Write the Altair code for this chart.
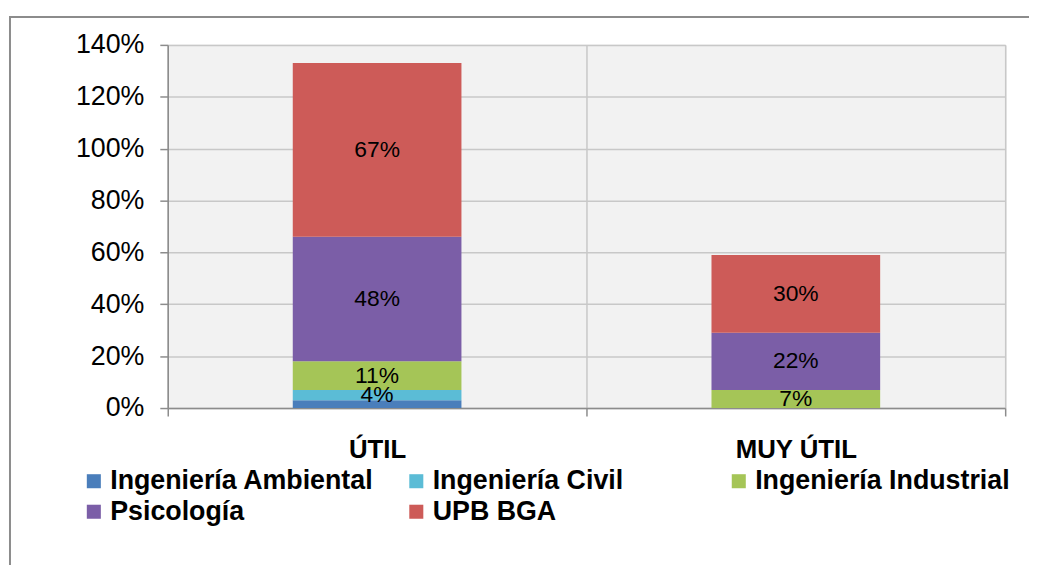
import altair as alt
import pandas as pd

FONT = "Liberation Sans"

categories = ["ÚTIL", "MUY ÚTIL"]
series = ["Ingeniería Ambiental", "Ingeniería Civil", "Ingeniería Industrial", "Psicología", "UPB BGA"]
util_values = [0.03, 0.04, 0.11, 0.48, 0.67]
muy_util_values = [0.0, 0.0, 0.07, 0.22, 0.30]
labeled_series = ["Ingeniería Civil", "Ingeniería Industrial", "Psicología", "UPB BGA"]
colors = ["#4a7ebb", "#5bbcd6", "#a5c557", "#7b5ea7", "#cd5b58"]
y_ticks = [0, 0.2, 0.4, 0.6, 0.8, 1.0, 1.2, 1.4]

rows = []
for ci, cat in enumerate(categories):
    vals = util_values if ci == 0 else muy_util_values
    for si, s in enumerate(series):
        rows.append({"cat": cat, "serie": s, "order": si, "value": vals[si],
                     "label": s in labeled_series})
df = pd.DataFrame(rows)

GRID = "#c8c8c8"
AXIS = "#8c8c8c"

x_enc = alt.X(
    "cat:N", sort=categories,
    scale=alt.Scale(paddingInner=0, paddingOuter=0),
    axis=alt.Axis(title=None, labelAngle=0, labelFont=FONT, labelFontSize=26,
                  labelFontWeight="bold", labelColor="black", tickBand="extent",
                  grid=True, gridColor=GRID, gridWidth=1.5, tickSize=8, tickColor=AXIS,
                  domainColor=AXIS, domainWidth=1.5, tickWidth=1.5, labelPadding=21),
)
y_enc = alt.Y(
    "value:Q", stack="zero",
    scale=alt.Scale(domain=[0, 1.4], nice=False),
    axis=alt.Axis(title=None, format=".0%", values=y_ticks, labelFont=FONT,
                  labelFontSize=27, labelColor="black", tickSize=8, tickColor=AXIS,
                  tickWidth=1.5, domainColor=AXIS, domainWidth=1.5, gridColor=GRID,
                  gridWidth=1.5, labelPadding=16),
)

frame = alt.Chart(pd.DataFrame({"a": [0]})).mark_rect(
    fill="transparent", stroke="#8c8c8c", strokeWidth=2
).encode(x=alt.value(-159), x2=alt.value(1200), y=alt.value(-28), y2=alt.value(700))

bars = alt.Chart(df).mark_bar(size=170).encode(
    x=x_enc,
    y=y_enc,
    color=alt.Color(
        "serie:N", sort=series,
        scale=alt.Scale(domain=series, range=colors),
        legend=alt.Legend(title=None, orient="none", legendX=-88, legendY=426,
                          direction="horizontal", columns=3, gridAlign="all",
                          columnPadding=29, rowPadding=3,
                          symbolType="square", symbolSize=200, symbolStrokeWidth=0,
                          labelFont=FONT, labelFontSize=27, labelFontWeight="bold",
                          labelColor="black", labelOffset=3, labelLimit=400, padding=0),
    ),
    order=alt.Order("order:Q"),
)

text = alt.Chart(df).transform_stack(
    stack="value", groupby=["cat"], as_=["v0", "v1"], sort=[alt.SortField("order")]
).transform_calculate(
    mid="(datum.v0 + datum.v1) / 2"
).transform_filter(
    "datum.label && datum.value > 0"
).mark_text(font=FONT, fontSize=23, color="black", baseline="middle").encode(
    x=alt.X("cat:N", sort=categories),
    y=alt.Y("mid:Q"),
    text=alt.Text("value:Q", format=".0%"),
)

chart = alt.layer(frame, bars, text).properties(
    width=844, height=366,
    autosize=alt.AutoSizeParams(type="none"),
    padding={"left": 161, "top": 35, "right": 24, "bottom": 156},
    background="white",
).configure_view(stroke="#bdbdbd", fill="#f2f2f2")

chart.save("out.html", embed_options={"renderer": "svg", "actions": False})
